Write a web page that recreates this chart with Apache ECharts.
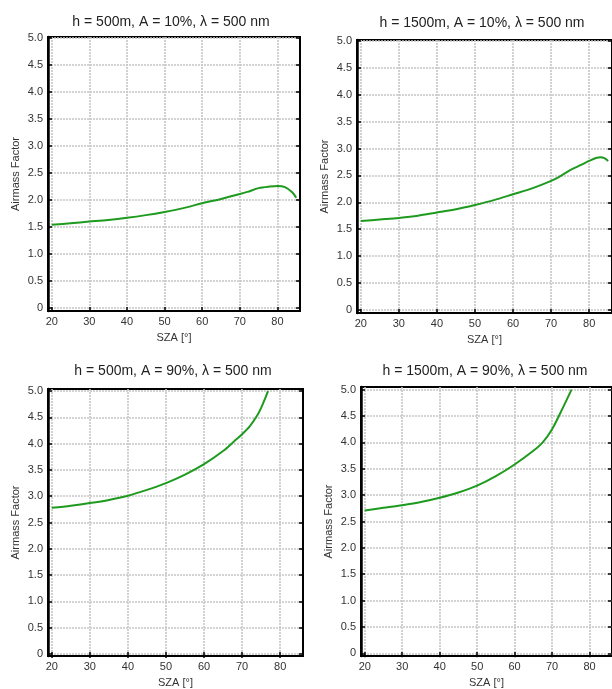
<!DOCTYPE html>
<html>
<head>
<meta charset="utf-8">
<title>Airmass Factor vs SZA</title>
<script src="https://cdn.jsdelivr.net/npm/echarts@6/dist/echarts.min.js"></script>
<style>
  html, body { margin: 0; padding: 0; background: #fff; }
  #chart { width: 612px; height: 689px; }
</style>
</head>
<body>
<div id="chart"></div>
<script>
// panel titles
const panelTitles = [
  'h = 500m, A = 10%, λ = 500 nm',
  'h = 1500m, A = 10%, λ = 500 nm',
  'h = 500m, A = 90%, λ = 500 nm',
  'h = 1500m, A = 90%, λ = 500 nm'
]

const xTickValues = [20, 30, 40, 50, 60, 70, 80]
const yTickValues = [0, 0.5, 1, 1.5, 2, 2.5, 3, 3.5, 4, 4.5, 5]

// h = 500m, A = 10%
const szaA = [20, 25, 30, 35, 40, 45, 50, 55, 60, 65, 70, 72, 75, 78, 80, 82, 84, 85]
const afA = [1.54, 1.57, 1.60, 1.63, 1.67, 1.72, 1.78, 1.85, 1.94, 2.02, 2.11, 2.15, 2.22, 2.25, 2.26, 2.24, 2.14, 2.04]

// h = 1500m, A = 10%
const szaB = [20, 25, 30, 35, 40, 45, 50, 55, 60, 65, 70, 72, 75, 78, 80, 82, 83, 84, 85]
const afB = [1.65, 1.68, 1.71, 1.75, 1.81, 1.87, 1.95, 2.04, 2.15, 2.26, 2.40, 2.47, 2.60, 2.70, 2.77, 2.83, 2.84, 2.82, 2.77]

// h = 500m, A = 90%
const szaC = [20, 25, 30, 35, 40, 45, 50, 55, 60, 65, 68, 70, 72, 74, 75, 76, 76.8]
const afC = [2.78, 2.82, 2.87, 2.93, 3.01, 3.12, 3.25, 3.41, 3.61, 3.86, 4.05, 4.18, 4.33, 4.54, 4.68, 4.85, 5.0]

// h = 1500m, A = 90%
const szaD = [20, 25, 30, 35, 40, 45, 50, 55, 60, 65, 67.5, 70, 72.5, 75.2]
const afD = [2.71, 2.76, 2.81, 2.87, 2.95, 3.05, 3.18, 3.36, 3.58, 3.84, 4.0, 4.25, 4.6, 5.0]

const panelSza = [szaA, szaB, szaC, szaD]
const panelAf = [afA, afB, afC, afD]

// layout of the four plot boxes
const boxes = [
  { left: 48, top: 37, width: 252, height: 274, yMin: -0.056, yMax: 5.02, titleX: 171, titleY: 15 },
  { left: 357, top: 40, width: 255, height: 273, yMin: -0.06, yMax: 5.02, titleX: 482, titleY: 16 },
  { left: 48, top: 389, width: 255, height: 271, yMin: -0.04, yMax: 5.04, titleX: 173, titleY: 364 },
  { left: 361, top: 387, width: 251, height: 270, yMin: -0.05, yMax: 5.05, titleX: 485, titleY: 364 }
]

const fontFamily = '"Liberation Sans", Arial, sans-serif'
const gridColor = '#c6c6c6'

const chartInstance = echarts.init(document.getElementById('chart'))

const grid = []
const xAxis = []
const yAxis = []
const series = []
const title = []

boxes.forEach((b, i) => {
  grid.push({
    left: b.left, top: b.top, width: b.width, height: b.height,
    show: true, borderColor: '#000', borderWidth: 2, containLabel: false
  })
  title.push({
    text: panelTitles[i],
    left: b.titleX, top: b.titleY,
    textAlign: 'center', padding: 0,
    textStyle: { fontFamily, fontSize: 14, fontWeight: 'normal', color: '#222' }
  })
  // main x axis
  xAxis.push({
    type: 'value', gridIndex: i, min: 19, max: 86, position: 'bottom',
    name: 'SZA [°]', nameLocation: 'middle', nameGap: 21,
    nameTextStyle: { fontFamily, fontSize: 11, color: '#333' },
    axisLine: { show: true, onZero: false, lineStyle: { color: '#000', width: 2 } },
    axisTick: { show: true, inside: true, length: 4, customValues: xTickValues, lineStyle: { color: '#000', width: 1.5 } },
    axisLabel: { customValues: xTickValues, fontFamily, fontSize: 11, color: '#333', margin: 5 },
    splitLine: { show: true, lineStyle: { color: gridColor, width: 1.6, type: [2, 1] } }
  })
  // mirrored top ticks
  xAxis.push({
    type: 'value', gridIndex: i, min: 19, max: 86, position: 'top',
    axisLine: { show: false },
    axisTick: { show: true, inside: true, length: 4, customValues: xTickValues, lineStyle: { color: '#000', width: 1.5 } },
    axisLabel: { show: false },
    splitLine: { show: false }
  })
  // main y axis
  yAxis.push({
    type: 'value', gridIndex: i, min: b.yMin, max: b.yMax, position: 'left',
    name: 'Airmass Factor', nameLocation: 'middle', nameGap: 27,
    nameTextStyle: { fontFamily, fontSize: 11, color: '#333' },
    axisLine: { show: true, onZero: false, lineStyle: { color: '#000', width: 2.5 } },
    axisTick: { show: true, inside: true, length: 4, customValues: yTickValues, lineStyle: { color: '#000', width: 1.5 } },
    axisLabel: {
      customValues: yTickValues, fontFamily, fontSize: 11, color: '#333', margin: 5,
      formatter: v => (v === 0 ? '0' : v.toFixed(1))
    },
    splitLine: { show: true, lineStyle: { color: gridColor, width: 1.6, type: [2, 1] } }
  })
  // mirrored right ticks
  yAxis.push({
    type: 'value', gridIndex: i, min: b.yMin, max: b.yMax, position: 'right',
    axisLine: { show: false },
    axisTick: { show: true, inside: true, length: 4, customValues: yTickValues, lineStyle: { color: '#000', width: 1.5 } },
    axisLabel: { show: false },
    splitLine: { show: false }
  })
  series.push({
    type: 'line',
    xAxisIndex: i * 2,
    yAxisIndex: i * 2,
    data: panelSza[i].map((x, k) => [x, panelAf[i][k]]),
    smooth: 0.3,
    showSymbol: false,
    lineStyle: { color: '#1e9a1e', width: 2 },
    animation: false
  })
})

chartInstance.setOption({
  backgroundColor: '#fff',
  animation: false,
  title,
  grid,
  xAxis,
  yAxis,
  series
})
</script>
</body>
</html>
